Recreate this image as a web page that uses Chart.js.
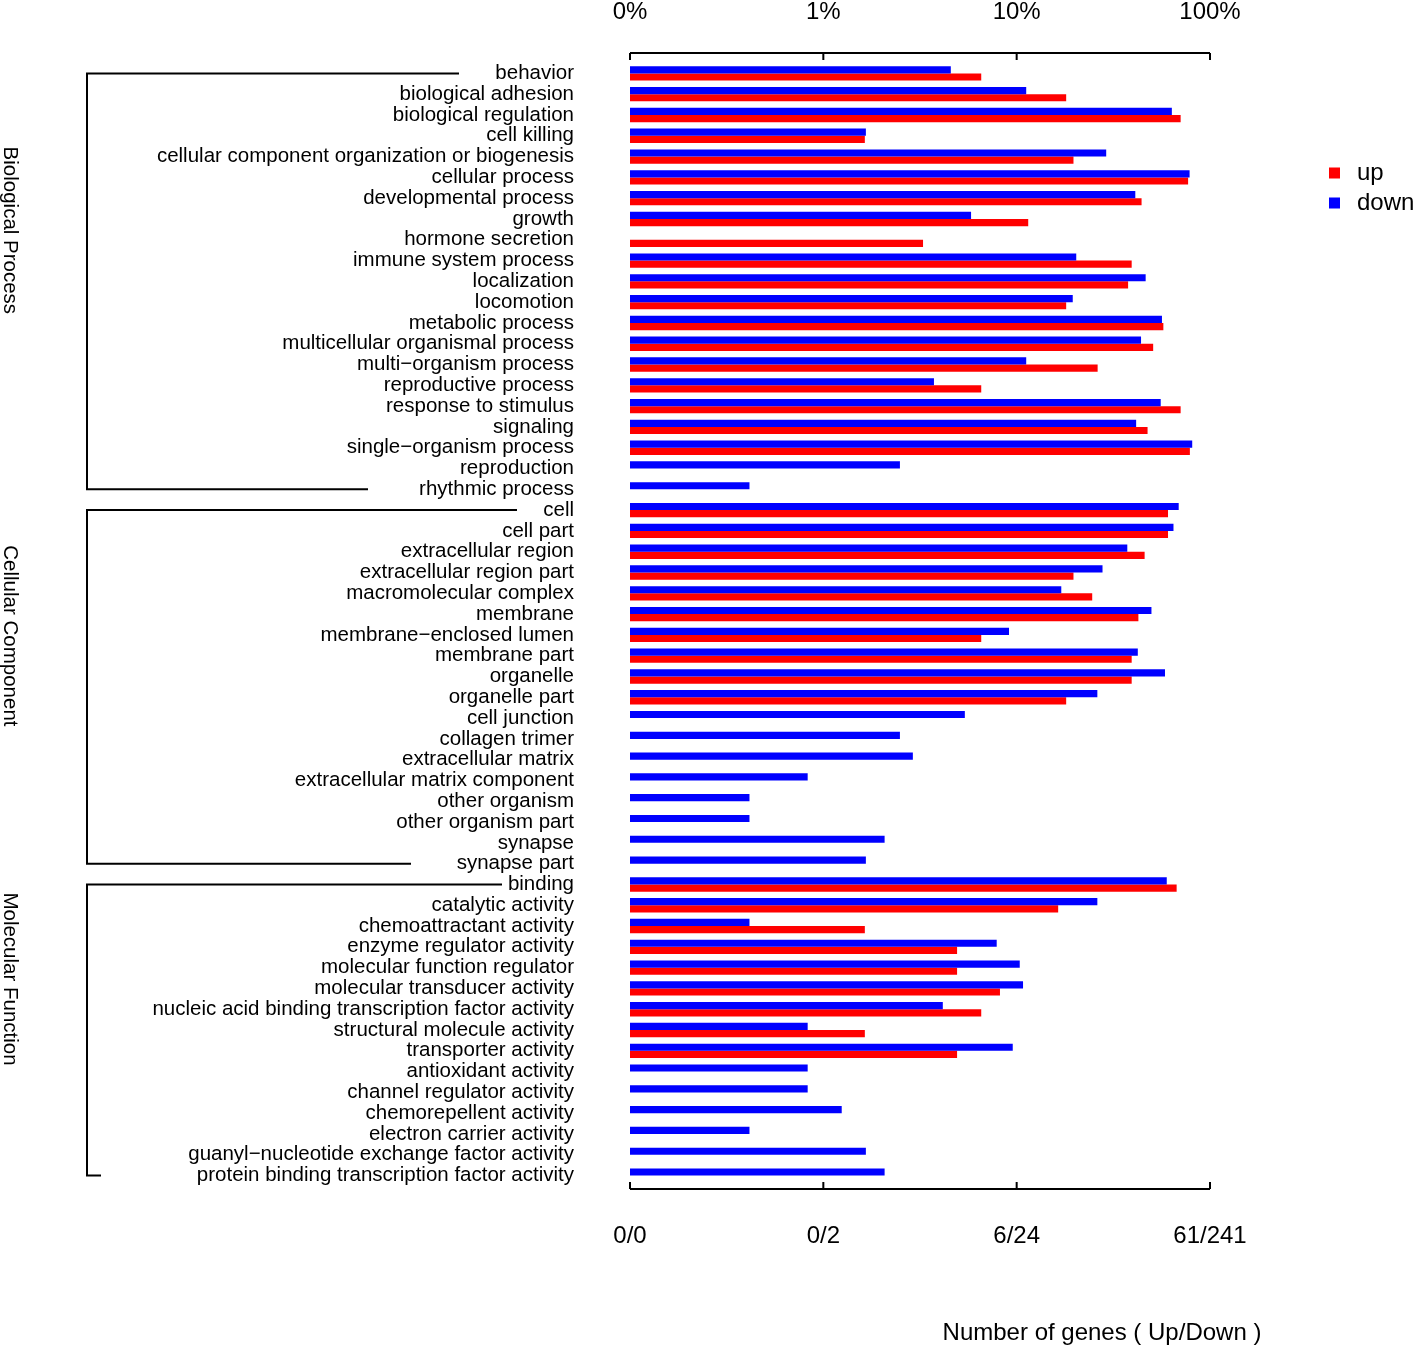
<!DOCTYPE html>
<html><head><meta charset="utf-8">
<script src="https://cdn.jsdelivr.net/npm/chart.js@4/dist/chart.umd.min.js"></script>
<style>html,body{margin:0;padding:0;background:#fff}#wrap{width:1414px;height:1346px}</style>
</head><body><div id="wrap"><canvas id="c" width="1414" height="1346"></canvas></div>
<script>
const categories = [
  'behavior','biological adhesion','biological regulation','cell killing',
  'cellular component organization or biogenesis','cellular process','developmental process','growth',
  'hormone secretion','immune system process','localization','locomotion','metabolic process',
  'multicellular organismal process','multi\u2212organism process','reproductive process',
  'response to stimulus','signaling','single\u2212organism process','reproduction','rhythmic process',
  'cell','cell part','extracellular region','extracellular region part','macromolecular complex',
  'membrane','membrane\u2212enclosed lumen','membrane part','organelle','organelle part','cell junction',
  'collagen trimer','extracellular matrix','extracellular matrix component','other organism',
  'other organism part','synapse','synapse part',
  'binding','catalytic activity','chemoattractant activity','enzyme regulator activity',
  'molecular function regulator','molecular transducer activity',
  'nucleic acid binding transcription factor activity','structural molecule activity',
  'transporter activity','antioxidant activity','channel regulator activity','chemorepellent activity',
  'electron carrier activity','guanyl\u2212nucleotide exchange factor activity',
  'protein binding transcription factor activity'
];
const upCounts = [
  4,11,43,1,12,47,27,7,2,24,23,11,35,31,16,4,43,29,48,0,0,
  37,37,28,12,15,26,4,24,24,11,0,0,0,0,0,0,0,0,
  41,10,1,3,3,5,4,1,3,0,0,0,0,0,0
];
const downCounts = [
  11,27,153,4,70,189,99,14,0,49,112,47,136,106,27,9,134,100,195,6,1,
  166,156,90,67,41,120,22,102,141,63,13,6,7,2,1,1,5,4,
  144,63,1,19,25,26,10,2,23,2,2,3,1,4,5
];
const upTotal = 61;
const downTotal = 241;
const groupNames = ['Biological Process','Cellular Component','Molecular Function'];
const groupSizes = [21,18,15];
const tickValues = [0.1,1,10,100];
const topTickLabels = ['0%','1%','10%','100%'];
const bottomTickLabels = ['0/0','0/2','6/24','61/241'];

const upPct = upCounts.map(v => v / upTotal * 100);
const downPct = downCounts.map(v => v / downTotal * 100);

const FONT = '"Liberation Sans", Arial, Helvetica, sans-serif';
const bracketEnds = [[459,368],[517,411],[502,101]];

const decor = {
  id: 'decor',
  afterDraw(chart) {
    const ctx = chart.ctx, ca = chart.chartArea;
    const xs = chart.scales.x, ys = chart.scales.y;
    ctx.save();
    ctx.strokeStyle = '#000';
    ctx.fillStyle = '#000';
    ctx.lineWidth = 2;
    const x0 = xs.getPixelForValue(tickValues[0]);
    const x1 = xs.getPixelForValue(tickValues[tickValues.length - 1]);
    const yTop = ca.top - 10, yBot = ca.bottom + 3;
    ctx.beginPath();
    ctx.moveTo(x0, yTop); ctx.lineTo(x1, yTop);
    ctx.moveTo(x0, yBot); ctx.lineTo(x1, yBot);
    tickValues.forEach(v => {
      const px = xs.getPixelForValue(v);
      ctx.moveTo(px, yTop); ctx.lineTo(px, yTop + 7);
      ctx.moveTo(px, yBot); ctx.lineTo(px, yBot - 7);
    });
    ctx.stroke();
    ctx.font = '24px ' + FONT;
    ctx.textAlign = 'center';
    ctx.textBaseline = 'middle';
    tickValues.forEach((v, i) => {
      const px = xs.getPixelForValue(v);
      ctx.fillText(topTickLabels[i], px, 12);
      ctx.fillText(bottomTickLabels[i], px, 1236);
    });
    ctx.fillText('Number of genes ( Up/Down )', 1102, 1333);
    let start = 0;
    ctx.lineWidth = 2;
    groupSizes.forEach((n, g) => {
      const yA = ys.getPixelForValue(start);
      const yB = ys.getPixelForValue(start + n - 1);
      ctx.beginPath();
      ctx.moveTo(bracketEnds[g][0], yA);
      ctx.lineTo(87, yA);
      ctx.lineTo(87, yB);
      ctx.lineTo(bracketEnds[g][1], yB);
      ctx.stroke();
      ctx.save();
      ctx.translate(10, (yA + yB) / 2 - 51);
      ctx.rotate(Math.PI / 2);
      ctx.font = '20.5px ' + FONT;
      ctx.textAlign = 'center';
      ctx.textBaseline = 'middle';
      ctx.fillText(groupNames[g], 0, 0);
      ctx.restore();
      start += n;
    });
    const legendItems = [chart.data.datasets[1], chart.data.datasets[0]];
    ctx.font = '24px ' + FONT;
    ctx.textAlign = 'left';
    ctx.textBaseline = 'middle';
    legendItems.forEach((ds, i) => {
      const cy = 173 + i * 30;
      ctx.fillStyle = ds.backgroundColor;
      ctx.fillRect(1329, cy - 5.5, 11, 11);
      ctx.fillStyle = '#000';
      ctx.fillText(ds.label, 1357, cy);
    });
    ctx.restore();
  }
};

new Chart(document.getElementById('c'), {
  type: 'bar',
  data: {
    labels: categories,
    datasets: [
      { label: 'down', data: downPct, backgroundColor: '#0000ff', categoryPercentage: 0.69, barPercentage: 1.0, minBarLength: 1 },
      { label: 'up', data: upPct, backgroundColor: '#ff0000', categoryPercentage: 0.69, barPercentage: 1.0, minBarLength: 1 }
    ]
  },
  options: {
    indexAxis: 'y',
    responsive: false,
    animation: false,
    layout: { padding: { left: 0, right: 204, top: 63, bottom: 160 } },
    scales: {
      x: { type: 'logarithmic', min: 0.1, max: 100, display: false },
      y: {
        type: 'category',
        grid: { display: false, drawTicks: false, tickLength: 0 },
        border: { display: false },
        ticks: { autoSkip: false, padding: 56, color: '#000', font: { family: FONT, size: 20.5, lineHeight: 1 } },
        afterFit(scale) {
          scale.width = 630;
          scale.paddingTop = 0;
          scale.paddingBottom = 0;
        }
      }
    },
    plugins: { legend: { display: false }, tooltip: { enabled: false } }
  },
  plugins: [decor]
});
</script></body></html>
